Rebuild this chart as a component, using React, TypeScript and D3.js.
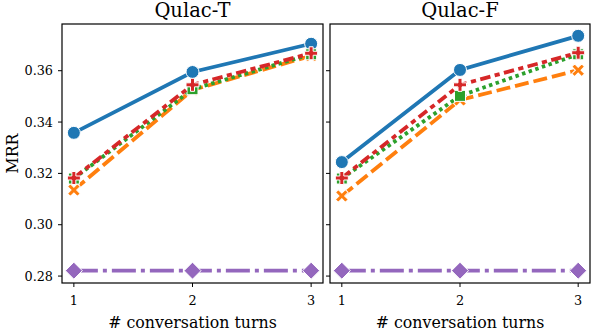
import React from "react";
import * as d3 from "d3";

// conversation turns on the x axis
const turns = [1, 2, 3];
const panelTitles = ["Qulac-T", "Qulac-F"];
const yTicks = [0.28, 0.3, 0.32, 0.34, 0.36];

// MRR per series, one array per panel
const blueT = [0.3358, 0.3595, 0.3705];
const orangeT = [0.3135, 0.3525, 0.3658];
const greenT = [0.318, 0.3528, 0.3664];
const redT = [0.3182, 0.3545, 0.3668];
const purpleT = [0.2821, 0.2821, 0.2821];

const blueF = [0.3244, 0.3603, 0.3736];
const orangeF = [0.3112, 0.3486, 0.3602];
const greenF = [0.318, 0.3502, 0.3664];
const redF = [0.3182, 0.3545, 0.367];
const purpleF = [0.2821, 0.2821, 0.2821];

const styles = [
  { color: "#1f77b4", dash: "none", marker: "circle" },
  { color: "#ff7f0e", dash: "14,5", marker: "x" },
  { color: "#2ca02c", dash: "3.5,3.5", marker: "square" },
  { color: "#d62728", dash: "10.5,4.4,5.2,4.4", marker: "plus" },
  { color: "#9467bd", dash: "24,5,4,5", marker: "diamond" },
];

const panels = [
  { title: panelTitles[0], series: [blueT, orangeT, greenT, redT, purpleT], x0: 62, x1: 323 },
  { title: panelTitles[1], series: [blueF, orangeF, greenF, redF, purpleF], x0: 330, x1: 590 },
];

const top = 24;
const bottom = 283;
const font = "'DejaVu Serif', serif";

const plusPath = (a: number, w: number) =>
  `M${-w},${-a}H${w}V${-w}H${a}V${w}H${w}V${a}H${-w}V${w}H${-a}V${-w}H${-w}Z`;

function Marker({ kind, x, y, color }: { kind: string; x: number; y: number; color: string }) {
  const common = { fill: color, stroke: "#fff", strokeWidth: 1 };
  if (kind === "circle") return <circle cx={x} cy={y} r={6.5} {...common} />;
  if (kind === "square") return <rect x={x - 5.5} y={y - 5.5} width={11} height={11} {...common} />;
  if (kind === "diamond")
    return <path d={`M${x},${y - 8.5}L${x + 8.5},${y}L${x},${y + 8.5}L${x - 8.5},${y}Z`} {...common} />;
  if (kind === "plus") return <path transform={`translate(${x},${y})`} d={plusPath(6.5, 2)} {...common} />;
  return <path transform={`translate(${x},${y}) rotate(45)`} d={plusPath(7, 2)} {...common} />;
}

export default function App() {
  const y = d3.scaleLinear().domain([0.2773, 0.3782]).range([bottom, top]);

  return (
    <svg width={598} height={332} style={{ position: "absolute", left: 0, top: 0, background: "#fff" }}>
      {panels.map((p, pi) => {
        const x = d3.scaleLinear().domain([0.9, 3.1]).range([p.x0, p.x1]);
        const line = d3
          .line<number>()
          .x((_, i) => x(turns[i]))
          .y((d) => y(d));
        const cx = (p.x0 + p.x1) / 2;
        return (
          <g key={pi}>
            <text x={cx} y={16.5} textAnchor="middle" fontFamily={font} fontSize={19.5}>
              {p.title}
            </text>
            {/* ticks */}
            {yTicks.map((t) => (
              <g key={t}>
                <line x1={p.x0 - 4} x2={p.x0} y1={y(t)} y2={y(t)} stroke="#000" strokeWidth={1} />
                {pi === 0 && (
                  <text x={p.x0 - 9} y={y(t) + 4.6} textAnchor="end" fontFamily={font} fontSize={12.8}>
                    {t.toFixed(2)}
                  </text>
                )}
              </g>
            ))}
            {turns.map((t) => (
              <g key={t}>
                <line x1={x(t)} x2={x(t)} y1={bottom} y2={bottom + 4} stroke="#000" strokeWidth={1} />
                <text x={x(t)} y={bottom + 22} textAnchor="middle" fontFamily={font} fontSize={12.8}>
                  {t}
                </text>
              </g>
            ))}
            <text x={cx} y={327.5} textAnchor="middle" fontFamily={font} fontSize={15.8}>
              # conversation turns
            </text>
            {/* series */}
            <g>
              {p.series.map((s, si) => (
                <g key={si}>
                  <path
                    d={line(s) || ""}
                    fill="none"
                    stroke={styles[si].color}
                    strokeWidth={3.8}
                    strokeDasharray={styles[si].dash}
                  />
                  {s.map((v, i) => (
                    <Marker key={i} kind={styles[si].marker} x={x(turns[i])} y={y(v)} color={styles[si].color} />
                  ))}
                </g>
              ))}
            </g>
            <rect x={p.x0} y={top} width={p.x1 - p.x0} height={bottom - top} fill="none" stroke="#000" strokeWidth={1.2} />
          </g>
        );
      })}
      <text
        transform={`translate(18,${(top + bottom) / 2}) rotate(-90)`}
        textAnchor="middle"
        fontFamily={font}
        fontSize={15.8}
      >
        MRR
      </text>
    </svg>
  );
}
